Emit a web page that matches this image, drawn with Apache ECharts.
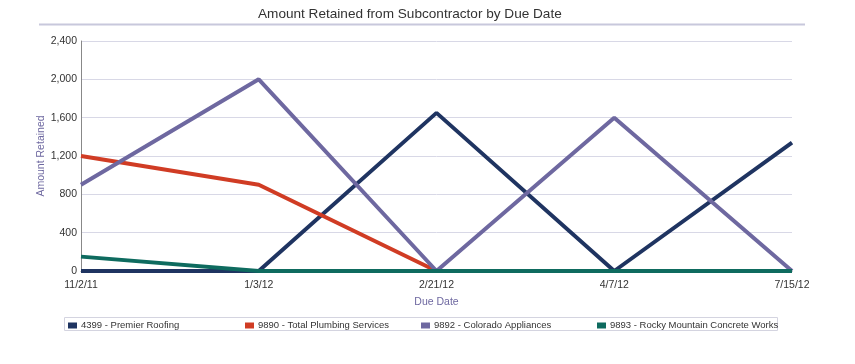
<!DOCTYPE html>
<html><head><meta charset="utf-8">
<script src="https://cdn.jsdelivr.net/npm/echarts@6/dist/echarts.min.js"></script>
<style>html,body{margin:0;padding:0;background:#fff}#c{width:855px;height:364px}</style>
</head><body><div id="c"></div>
<script>
const categories = ['11/2/11','1/3/12','2/21/12','4/7/12','7/15/12'];
const seriesNames = ['4399 - Premier Roofing','9890 - Total Plumbing Services','9892 - Colorado Appliances','9893 - Rocky Mountain Concrete Works'];
const premierRoofing = [0, 0, 1650, 0, 1340];
const totalPlumbing = [1200, 900, 0, 0, 0];
const coloradoAppliances = [900, 2000, 0, 1600, 0];
const rockyMountain = [150, 0, 0, 0, 0];
const yTicks = [0, 400, 800, 1200, 1600, 2000, 2400];
const colors = ['#1f3461','#d03c24','#6e68a0','#0e6b5f'];
const values = [premierRoofing, totalPlumbing, coloradoAppliances, rockyMountain];
const legendLefts = [68, 245, 421, 597];

const chart = echarts.init(document.getElementById('c'));
const font = '"Liberation Sans", Arial, sans-serif';
chart.setOption({
  animation:false,
  textStyle:{fontFamily:font},
  title:{text:'Amount Retained from Subcontractor by Due Date',left:258,top:7,padding:0,
    textStyle:{fontSize:13.6,fontWeight:'normal',color:'#333',fontFamily:font}},
  graphic:[
    {type:'line',shape:{x1:39,y1:24.5,x2:805,y2:24.5},style:{stroke:'#c8c8dc',lineWidth:2}},
    {type:'rect',shape:{x:64.5,y:317.5,width:713,height:13},style:{fill:'none',stroke:'#d4d4e0',lineWidth:1}}
  ],
  legend: seriesNames.map((n,i)=>({
    data:[n],left:legendLefts[i],top:320.5,itemWidth:9,itemHeight:6,itemGap:3,icon:'rect',
    textStyle:{fontSize:9.5,color:'#333',fontFamily:font,padding:[0,0,0,-1]},padding:0
  })),
  grid:{left:81,right:63,top:41,bottom:93},
  xAxis:{type:'category',data:categories,boundaryGap:false,
    name:'Due Date',nameLocation:'middle',nameGap:26,
    nameTextStyle:{color:'#6e68a0',fontSize:10.5},
    axisLine:{lineStyle:{color:'#888'}},axisTick:{show:false},
    axisLabel:{color:'#333',fontSize:10.5,margin:9}},
  yAxis:{type:'value',min:yTicks[0],max:yTicks[yTicks.length-1],interval:400,
    name:'Amount Retained',nameLocation:'middle',nameGap:34,nameMoveOverlap:false,
    nameTextStyle:{color:'#6e68a0',fontSize:10.5},
    axisLine:{show:true,lineStyle:{color:'#888'}},axisTick:{show:false},
    axisLabel:{color:'#333',fontSize:10.5,margin:4,formatter:v=>v.toLocaleString('en-US')},
    splitLine:{lineStyle:{color:'#d8d8e6'}}},
  series: values.map((d,i)=>({
    name:seriesNames[i],type:'line',data:d,showSymbol:false,symbol:'none',
    lineStyle:{width:4,color:colors[i]},itemStyle:{color:colors[i]}
  }))
});
</script></body></html>
